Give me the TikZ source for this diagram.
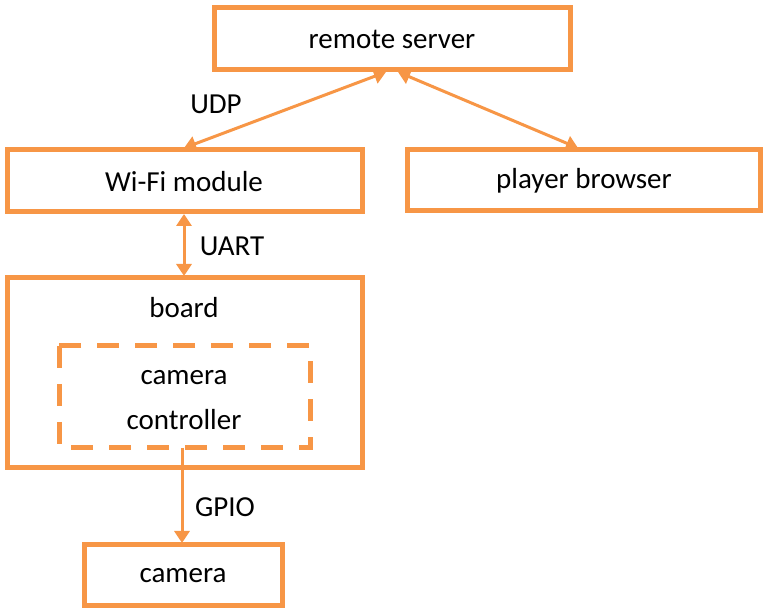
\documentclass[tikz,border=0pt]{standalone}
\usepackage{fontspec}
\setmainfont{Carlito}
\usetikzlibrary{arrows.meta}
\definecolor{acc}{HTML}{F79646}
\begin{document}
\begin{tikzpicture}[x=1pt,y=-1pt,
  box/.style={draw=acc,line width=5pt,inner sep=0pt},
  lbl/.style={font=\fontsize{29}{34}\selectfont,text=black},
  conn/.style={draw=acc,line width=3pt,{Triangle[length=12pt,width=15pt]}-{Triangle[length=12pt,width=15pt]}},
  oneway/.style={draw=acc,line width=3pt,-{Triangle[length=12pt,width=15pt]}}]
\useasboundingbox (0,0) rectangle (764,609);
% boxes
\draw[box] (214,8) rectangle (570,70);
\node[lbl] (rs) at (392,39) {remote server};
\coordinate (rsb1) at (386,72);
\coordinate (rsb2) at (398,72);
\draw[box] (7,150) rectangle (362,212);
\node[lbl] (wifi) at (184,182) {Wi-Fi module};
\coordinate (wifit) at (184,148);
\coordinate (wifib) at (184,214);
\draw[box] (407,150) rectangle (760,211);
\node[lbl] (pb) at (584,181) {player browser};
\coordinate (pbt) at (578,148);
\draw[box] (7,278) rectangle (362,468);
\node[lbl] (board) at (184,308) {board};
\coordinate (boardt) at (184,276);
\draw[box,dash pattern=on 22pt off 16pt] (59,346) rectangle (310,448);
\node[lbl] (cc1) at (184,378) {camera};
\node[lbl] (cc2) at (184,420) {controller};
\coordinate (ccb) at (182,448);
\draw[box] (84,545) rectangle (282,606);
\node[lbl] (cam) at (183,576) {camera};
\coordinate (camt) at (182,543);
% connectors
\draw[conn] (rsb1) -- (wifit);
\draw[conn] (rsb2) -- (pbt);
\draw[conn] (wifib) -- (boardt);
\draw[oneway] (ccb) -- (camt);
% labels
\node[lbl] (udp) at (216,104) {UDP};
\node[lbl] (uart) at (232,246) {UART};
\node[lbl] (gpio) at (225,507) {GPIO};
\end{tikzpicture}
\end{document}
